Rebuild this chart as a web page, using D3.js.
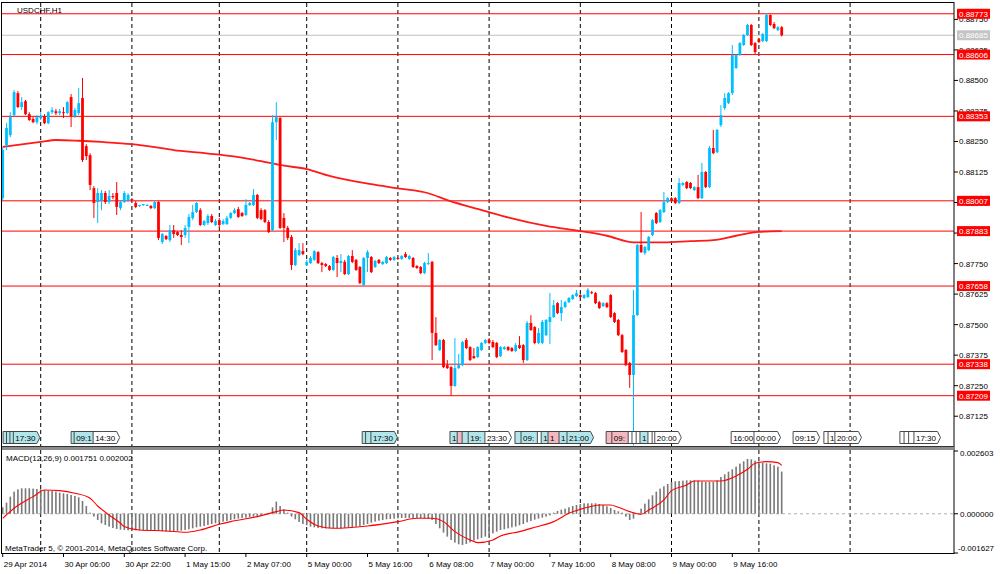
<!DOCTYPE html>
<html>
<head>
<meta charset="utf-8">
<script src="https://cdn.jsdelivr.net/npm/d3@7"></script>
<style>
  body { margin: 0; background: #fff; }
  svg text { font-family: "Liberation Sans", Arial, sans-serif; font-size: 8px; fill: #000; }
</style>
</head>
<body>
<div id="chart"></div>
<script>
// USDCHF H1 candles: [open, high, low, close], one per bar
const ohlc = [
  [0.88018,0.88227,0.88010,0.88215],[0.88235,0.88325,0.88215,0.88305],[0.88276,0.88370,0.88268,0.88350],[0.88358,0.88461,0.88354,0.88452],
  [0.88448,0.88457,0.88387,0.88391],[0.88391,0.88432,0.88379,0.88411],[0.88415,0.88420,0.88358,0.88362],[0.88362,0.88370,0.88334,0.88338],
  [0.88342,0.88350,0.88325,0.88329],[0.88329,0.88358,0.88321,0.88350],[0.88346,0.88370,0.88338,0.88354],[0.88354,0.88362,0.88321,0.88325],
  [0.88325,0.88374,0.88321,0.88370],[0.88370,0.88391,0.88362,0.88379],[0.88374,0.88383,0.88358,0.88366],[0.88366,0.88383,0.88358,0.88374],
  [0.88370,0.88391,0.88346,0.88366],[0.88366,0.88415,0.88362,0.88411],[0.88432,0.88444,0.88309,0.88354],[0.88354,0.88387,0.88346,0.88379],
  [0.88366,0.88469,0.88358,0.88407],[0.88428,0.88510,0.88166,0.88174],[0.88231,0.88239,0.88174,0.88190],[0.88194,0.88202,0.88051,0.88072],
  [0.88059,0.88067,0.87937,0.87998],[0.88002,0.88059,0.87916,0.88039],[0.88010,0.88051,0.87969,0.88039],[0.88039,0.88047,0.87994,0.88002],
  [0.88002,0.88051,0.87994,0.88027],[0.88027,0.88039,0.88014,0.88022],[0.88039,0.88084,0.87949,0.87982],[0.87977,0.88010,0.87969,0.88002],
  [0.88002,0.88047,0.87998,0.88039],[0.88010,0.88039,0.88002,0.88031],[0.88014,0.88018,0.88006,0.88010],[0.87998,0.88006,0.87977,0.87982],
  [0.87986,0.87990,0.87982,0.87990],[0.87990,0.87994,0.87986,0.87994],[0.87990,0.87994,0.87986,0.87990],[0.87986,0.87990,0.87973,0.87977],
  [0.87977,0.88006,0.87973,0.88002],[0.88002,0.88006,0.87846,0.87855],[0.87838,0.87875,0.87830,0.87871],[0.87863,0.87867,0.87846,0.87850],
  [0.87846,0.87908,0.87838,0.87887],[0.87887,0.87908,0.87855,0.87871],[0.87879,0.87883,0.87863,0.87867],[0.87867,0.87887,0.87826,0.87859],
  [0.87867,0.87908,0.87855,0.87896],[0.87900,0.87953,0.87834,0.87941],[0.87937,0.87990,0.87928,0.87961],[0.87961,0.88002,0.87957,0.87998],
  [0.87969,0.87977,0.87904,0.87908],[0.87908,0.87928,0.87904,0.87924],[0.87916,0.87953,0.87908,0.87945],[0.87945,0.87953,0.87916,0.87920],
  [0.87908,0.87932,0.87904,0.87924],[0.87928,0.87937,0.87896,0.87908],[0.87912,0.87932,0.87908,0.87924],[0.87912,0.87945,0.87908,0.87937],
  [0.87937,0.87961,0.87932,0.87957],[0.87957,0.87977,0.87953,0.87969],[0.87973,0.87982,0.87937,0.87941],[0.87957,0.87961,0.87941,0.87945],
  [0.87949,0.88014,0.87945,0.87990],[0.87990,0.88002,0.87986,0.87998],[0.87990,0.88055,0.87986,0.88031],[0.88031,0.88035,0.87932,0.87937],
  [0.87969,0.87977,0.87928,0.87932],[0.87969,0.87973,0.87916,0.87920],[0.87920,0.87928,0.87875,0.87879],[0.87887,0.88358,0.87883,0.88329],
  [0.88329,0.88411,0.88256,0.88350],[0.88346,0.88350,0.87892,0.87896],[0.87937,0.87957,0.87838,0.87896],[0.87896,0.87904,0.87846,0.87855],
  [0.87859,0.87867,0.87724,0.87744],[0.87744,0.87814,0.87740,0.87805],[0.87785,0.87834,0.87781,0.87805],[0.87801,0.87834,0.87785,0.87789],
  [0.87744,0.87765,0.87740,0.87757],[0.87752,0.87781,0.87748,0.87773],[0.87765,0.87805,0.87761,0.87801],[0.87797,0.87801,0.87748,0.87752],
  [0.87752,0.87757,0.87715,0.87744],[0.87748,0.87752,0.87736,0.87740],[0.87740,0.87744,0.87720,0.87724],[0.87724,0.87781,0.87720,0.87777],
  [0.87773,0.87785,0.87695,0.87752],[0.87752,0.87789,0.87715,0.87761],[0.87757,0.87765,0.87703,0.87707],[0.87707,0.87785,0.87703,0.87781],
  [0.87781,0.87805,0.87752,0.87757],[0.87765,0.87769,0.87720,0.87724],[0.87736,0.87740,0.87666,0.87670],[0.87662,0.87777,0.87658,0.87773],
  [0.87773,0.87805,0.87715,0.87797],[0.87777,0.87781,0.87711,0.87715],[0.87736,0.87765,0.87732,0.87761],[0.87765,0.87769,0.87748,0.87752],
  [0.87748,0.87761,0.87744,0.87757],[0.87752,0.87781,0.87748,0.87777],[0.87773,0.87777,0.87761,0.87765],[0.87765,0.87781,0.87761,0.87777],
  [0.87773,0.87777,0.87765,0.87769],[0.87769,0.87785,0.87765,0.87781],[0.87789,0.87797,0.87773,0.87777],[0.87769,0.87785,0.87765,0.87781],
  [0.87773,0.87777,0.87732,0.87736],[0.87740,0.87744,0.87728,0.87732],[0.87736,0.87740,0.87707,0.87711],[0.87711,0.87757,0.87707,0.87752],
  [0.87748,0.87793,0.87744,0.87752],[0.87757,0.87761,0.87355,0.87466],[0.87466,0.87531,0.87412,0.87416],[0.87396,0.87441,0.87392,0.87437],
  [0.87437,0.87441,0.87322,0.87326],[0.87334,0.87355,0.87318,0.87322],[0.87326,0.87330,0.87209,0.87249],[0.87249,0.87445,0.87245,0.87322],
  [0.87322,0.87380,0.87318,0.87334],[0.87334,0.87433,0.87330,0.87429],[0.87437,0.87445,0.87400,0.87404],[0.87408,0.87412,0.87351,0.87355],
  [0.87371,0.87404,0.87359,0.87363],[0.87367,0.87412,0.87363,0.87408],[0.87396,0.87429,0.87392,0.87425],[0.87425,0.87441,0.87420,0.87437],
  [0.87437,0.87445,0.87420,0.87425],[0.87429,0.87437,0.87404,0.87408],[0.87425,0.87429,0.87363,0.87367],[0.87371,0.87412,0.87367,0.87408],
  [0.87400,0.87412,0.87396,0.87408],[0.87408,0.87412,0.87392,0.87396],[0.87404,0.87408,0.87388,0.87392],[0.87392,0.87425,0.87388,0.87416],
  [0.87416,0.87453,0.87400,0.87404],[0.87416,0.87420,0.87343,0.87355],[0.87355,0.87515,0.87351,0.87507],[0.87507,0.87539,0.87474,0.87478],
  [0.87490,0.87494,0.87420,0.87425],[0.87425,0.87486,0.87420,0.87466],[0.87425,0.87519,0.87420,0.87511],[0.87457,0.87523,0.87453,0.87519],
  [0.87511,0.87629,0.87420,0.87531],[0.87531,0.87601,0.87527,0.87580],[0.87588,0.87592,0.87543,0.87547],[0.87547,0.87601,0.87515,0.87572],
  [0.87572,0.87597,0.87568,0.87592],[0.87592,0.87613,0.87588,0.87609],[0.87605,0.87625,0.87601,0.87621],[0.87617,0.87642,0.87613,0.87629],
  [0.87621,0.87625,0.87609,0.87613],[0.87609,0.87625,0.87605,0.87621],[0.87613,0.87650,0.87609,0.87642],[0.87633,0.87638,0.87625,0.87629],
  [0.87629,0.87633,0.87584,0.87588],[0.87592,0.87597,0.87564,0.87568],[0.87576,0.87592,0.87572,0.87588],[0.87588,0.87592,0.87568,0.87572],
  [0.87621,0.87625,0.87527,0.87531],[0.87547,0.87551,0.87507,0.87511],[0.87519,0.87523,0.87453,0.87457],[0.87457,0.87462,0.87384,0.87388],
  [0.87396,0.87400,0.87330,0.87334],[0.87343,0.87347,0.87241,0.87294],[0.87294,0.87642,0.87005,0.87539],[0.87539,0.87830,0.87535,0.87826],
  [0.87826,0.87961,0.87793,0.87797],[0.87793,0.87822,0.87785,0.87818],[0.87805,0.87863,0.87801,0.87859],[0.87867,0.87932,0.87863,0.87928],
  [0.87957,0.87961,0.87912,0.87916],[0.87920,0.87973,0.87916,0.87969],[0.87961,0.88043,0.87957,0.88002],[0.88002,0.88022,0.87998,0.88018],
  [0.88018,0.88022,0.88002,0.88006],[0.88018,0.88022,0.87994,0.87998],[0.87998,0.88100,0.87994,0.88080],[0.88072,0.88084,0.88067,0.88080],
  [0.88084,0.88088,0.88055,0.88059],[0.88080,0.88084,0.88055,0.88059],[0.88051,0.88067,0.88047,0.88063],[0.88063,0.88113,0.88014,0.88018],
  [0.88018,0.88162,0.88014,0.88125],[0.88125,0.88129,0.88059,0.88063],[0.88063,0.88231,0.88059,0.88223],[0.88223,0.88297,0.88198,0.88202],
  [0.88206,0.88301,0.88202,0.88297],[0.88317,0.88399,0.88309,0.88358],[0.88387,0.88448,0.88379,0.88428],[0.88407,0.88452,0.88403,0.88448],
  [0.88448,0.88645,0.88440,0.88604],[0.88551,0.88608,0.88547,0.88604],[0.88604,0.88657,0.88600,0.88653],[0.88645,0.88690,0.88641,0.88686],
  [0.88686,0.88731,0.88682,0.88727],[0.88727,0.88731,0.88641,0.88645],[0.88653,0.88657,0.88608,0.88616],[0.88669,0.88673,0.88653,0.88657],
  [0.88661,0.88694,0.88657,0.88690],[0.88661,0.88773,0.88657,0.88768],[0.88768,0.88770,0.88723,0.88727],[0.88731,0.88739,0.88710,0.88714],
  [0.88706,0.88723,0.88702,0.88718],[0.88718,0.88723,0.88680,0.88685]
];

// moving average (red curve), sampled at bar indices
const maIdx  = [0, 10, 14, 20, 26, 34, 40, 45, 52, 57, 64, 70, 74, 80, 86, 97, 104, 112, 117, 127, 134, 143, 152, 159, 166, 174, 181, 187, 193, 199, 205];
const maVals = [0.88228, 0.88248, 0.88256, 0.88253, 0.88248, 0.88239, 0.88227, 0.88215, 0.88204, 0.88196, 0.88181, 0.88163, 0.88151, 0.88137, 0.88109,
                0.88075, 0.88058, 0.88038, 0.88010, 0.87965, 0.87935, 0.87904, 0.87883, 0.87864, 0.87837, 0.87837, 0.87842, 0.87846, 0.87864, 0.87880, 0.87883];

// MACD(12,26,9) main histogram, one per bar
const macdHist = [
  0.000268,0.000462,0.000710,0.000918,0.001014,0.001056,0.001056,0.001056,0.001042,0.001028,
  0.001014,0.000987,0.000959,0.000945,0.000918,0.000876,0.000849,0.000821,0.000779,0.000738,
  0.000683,0.000531,0.000323,0.000047,-0.000119,-0.000257,-0.000395,-0.000464,-0.000533,-0.000589,
  -0.000630,-0.000658,-0.000672,-0.000685,-0.000685,-0.000685,-0.000685,-0.000685,-0.000685,-0.000699,
  -0.000699,-0.000713,-0.000727,-0.000741,-0.000741,-0.000727,-0.000713,-0.000699,-0.000672,-0.000644,
  -0.000603,-0.000561,-0.000533,-0.000506,-0.000464,-0.000423,-0.000395,-0.000354,-0.000326,-0.000299,
  -0.000257,-0.000229,-0.000202,-0.000174,-0.000160,-0.000133,-0.000119,-0.000091,-0.000077,-0.000050,
  -0.000022,0.000268,0.000503,0.000323,0.000185,0.000047,-0.000119,-0.000229,-0.000340,-0.000423,
  -0.000478,-0.000533,-0.000561,-0.000589,-0.000603,-0.000603,-0.000603,-0.000603,-0.000603,-0.000603,
  -0.000589,-0.000575,-0.000561,-0.000533,-0.000506,-0.000464,-0.000423,-0.000368,-0.000326,-0.000285,
  -0.000257,-0.000229,-0.000216,-0.000202,-0.000188,-0.000174,-0.000174,-0.000174,-0.000174,-0.000174,
  -0.000174,-0.000188,-0.000202,-0.000257,-0.000423,-0.000603,-0.000782,-0.000948,-0.001086,-0.001197,
  -0.001266,-0.001294,-0.001252,-0.001183,-0.001114,-0.001059,-0.001003,-0.000948,-0.000879,-0.000810,
  -0.000741,-0.000672,-0.000644,-0.000603,-0.000561,-0.000533,-0.000478,-0.000423,-0.000354,-0.000299,
  -0.000243,-0.000202,-0.000160,-0.000119,-0.000064,0.000047,0.000116,0.000171,0.000213,0.000268,
  0.000323,0.000365,0.000406,0.000434,0.000434,0.000434,0.000434,0.000406,0.000365,0.000310,
  0.000240,0.000158,0.000102,0.000047,-0.000119,-0.000257,-0.000202,-0.000008,0.000213,0.000420,
  0.000600,0.000766,0.000918,0.001042,0.001139,0.001236,0.001318,0.001346,0.001360,0.001374,
  0.001388,0.001388,0.001388,0.001374,0.001332,0.001318,0.001318,0.001318,0.001388,0.001526,
  0.001636,0.001747,0.001844,0.001954,0.002079,0.002175,0.002272,0.002258,0.002203,0.002161,
  0.002120,0.002092,0.002079,0.002009,0.001954,0.001751
];

// MACD signal line, sampled at bar indices
const sigIdx  = [0, 3, 8, 11, 15, 19, 23, 25, 28, 31, 32, 36, 43, 48, 52, 57, 60, 67, 72, 74, 78, 80, 83, 87, 96, 104, 109, 113, 116, 119,
                 123, 125, 129, 131, 136, 140, 145, 149, 154, 157, 160, 162, 165, 168, 170, 174, 176, 180, 182, 189, 193, 196, 198, 201, 204, 205];
const sigVals = [-0.000188, 0.000227, 0.000710, 0.000987, 0.000959, 0.000849, 0.000641, 0.000323, -0.000050, -0.000395, -0.000533, -0.000672,
                 -0.000713, -0.000768, -0.000672, -0.000437, -0.000326, -0.000119, 0.000088, 0.000158, 0.000047, -0.000229, -0.000506, -0.000603,
                 -0.000506, -0.000326, -0.000188, -0.000188, -0.000326, -0.000741, -0.001086, -0.001197, -0.001086, -0.000920, -0.000741, -0.000561,
                 -0.000326, 0.000019, 0.000268, 0.000365, 0.000365, 0.000268, 0.000088, -0.000022, 0.000158, 0.000572, 0.000959, 0.001194, 0.001360,
                 0.001360, 0.001567, 0.001844, 0.002092, 0.002161, 0.002120, 0.002002];

const levelLines = [0.88773, 0.88606, 0.88353, 0.88007, 0.87883, 0.87658, 0.87338, 0.87209];
const bidPrice = 0.88685;
const priceTicks = [0.88750, 0.88625, 0.88500, 0.88375, 0.88250, 0.88125, 0.88000, 0.87875, 0.87750, 0.87625, 0.87500, 0.87375, 0.87250, 0.87125];
const macdTicks = [0.002603, 0, -0.001627];

const timeIdx = [0, 16, 32, 48, 64, 80, 96, 112, 128, 144, 160, 176, 192];
const timeLabels = ["29 Apr 2014", "30 Apr 06:00", "30 Apr 22:00", "1 May 15:00", "2 May 07:00", "5 May 00:00", "5 May 16:00",
                    "6 May 08:00", "7 May 00:00", "7 May 16:00", "8 May 08:00", "9 May 00:00", "9 May 16:00"];
const sepIdx = [10, 34, 57, 80, 104, 128, 152, 176, 199, 223];

// economic calendar tags along the bottom of the price panel (kind: 0 low, 1 medium, 2 high)
const evPos  = [0.1, 1, 1.9, 2.8, 18, 18.8, 23.8, 94.6, 95.5, 96.9, 117.7, 119.6, 120.9, 122.5, 126.9, 134.8, 136.4, 140.7, 141.7, 143.5,
                146.4, 148.5, 158.8, 160.3, 164.6, 165.6, 166.7, 167.7, 169.8, 170.9, 171.6, 191.7, 197.7, 208, 216.1, 217.2, 219,
                236.1, 237.2, 238.4, 239.8];
const evText = ["17:30", "17:30", "17:30", "17:30", "09:15", "09:15", "14:30", "17:30", "17:30", "17:30", "10:00", "10:00", "14:30", "19:00",
                "23:30", "09:00", "09:00", "10:00", "14:30", "16:00", "16:00", "21:00", "09:15", "09:15", "10:00", "10:00", "10:00", "14:30",
                "16:00", "16:00", "20:00", "16:00", "00:00", "09:15", "10:00", "10:00", "20:00", "10:00", "10:00", "10:00", "17:30"];
const evKind = [1, 1, 1, 1, 1, 1, 0, 1, 1, 1, 1, 2, 1, 1, 0, 1, 1, 0, 1, 2, 1, 1, 2, 2, 0, 0, 0, 1, 0, 0, 0, 0, 0, 0, 0, 0, 0, 0, 0, 0, 0];

class MetaChart {
  constructor(_config) {
    this.config = {
      parentElement: _config.parentElement,
      containerWidth: _config.containerWidth || 1000,
      containerHeight: _config.containerHeight || 574,
      left: 2, right: 954,
      mainTop: 3, mainBottom: 446,
      macdTop: 450, macdBottom: 553,
      bull: '#00bfff', bear: '#ff0000',
      tagFill: ['#ffffff', '#b2e5ea', '#f4b8c0']
    };
    this.initVis();
  }

  initVis() {
    let vis = this;
    const c = vis.config;

    vis.svg = d3.select(c.parentElement).append('svg')
      .attr('width', c.containerWidth)
      .attr('height', c.containerHeight);

    vis.x = d3.scaleLinear().domain([0, 205]).range([2.7, 781.7]);
    vis.y = d3.scaleLinear().domain([0.87003, 0.88813]).range([c.mainBottom, c.mainTop + 1]);
    vis.ym = d3.scaleLinear().domain([-0.001627, 0.002603]).range([c.macdBottom, c.macdTop + 1]);

    const defs = vis.svg.append('defs');
    defs.append('clipPath').attr('id', 'clip-main').append('rect')
      .attr('x', c.left).attr('y', c.mainTop).attr('width', c.right - c.left).attr('height', c.mainBottom - c.mainTop);
    defs.append('clipPath').attr('id', 'clip-macd').append('rect')
      .attr('x', c.left).attr('y', c.macdTop).attr('width', c.right - c.left).attr('height', c.macdBottom - c.macdTop);

    vis.main = vis.svg.append('g').attr('clip-path', 'url(#clip-main)');
    vis.macd = vis.svg.append('g').attr('clip-path', 'url(#clip-macd)');

    vis.renderVis();
  }

  renderVis() {
    let vis = this;
    const c = vis.config, x = vis.x, y = vis.y, ym = vis.ym;

    // day separators
    [[vis.main, c.mainTop, c.mainBottom], [vis.macd, c.macdTop, c.macdBottom]].forEach(([g, y0, y1]) => {
      g.selectAll('.sep').data(sepIdx).join('line')
        .attr('x1', d => x(d)).attr('x2', d => x(d))
        .attr('y1', y0).attr('y2', y1)
        .attr('stroke', '#000').attr('stroke-dasharray', '4,3');
    });

    // horizontal levels + bid line
    vis.main.selectAll('.lvl').data(levelLines).join('line')
      .attr('x1', c.left).attr('x2', c.right)
      .attr('y1', d => y(d)).attr('y2', d => y(d))
      .attr('stroke', '#ff0000');
    vis.main.append('line')
      .attr('x1', c.left).attr('x2', c.right)
      .attr('y1', y(bidPrice)).attr('y2', y(bidPrice))
      .attr('stroke', '#c0c0c0');

    // moving average
    const maLine = d3.line().x(d => x(d[0])).y(d => y(d[1])).curve(d3.curveMonotoneX);
    vis.main.append('path')
      .datum(maIdx.map((k, i) => [k, maVals[i]]))
      .attr('d', maLine)
      .attr('fill', 'none').attr('stroke', '#ff1a1a').attr('stroke-width', 1.8);

    // candles
    const col = d => d[3] >= d[0] ? c.bull : c.bear;
    vis.main.selectAll('.wick').data(ohlc).join('line')
      .attr('x1', (d, i) => x(i)).attr('x2', (d, i) => x(i))
      .attr('y1', d => y(d[1])).attr('y2', d => y(d[2]))
      .attr('stroke', col);
    vis.main.selectAll('.body').data(ohlc).join('rect')
      .attr('x', (d, i) => x(i) - 1.4).attr('width', 2.8)
      .attr('y', d => y(Math.max(d[0], d[3])))
      .attr('height', d => Math.max(1, Math.abs(y(d[0]) - y(d[3]))))
      .attr('fill', col);

    // calendar tags; a tag covered by the next one only shows the characters that fit
    const tagY = 431.5, tagH = 12;
    evPos.forEach((p, i) => {
      const g = vis.main.append('g');
      const x0 = x(p);
      const path = g.append('path');
      const t = g.append('text').attr('x', x0 + 2).attr('y', tagY + 9).text(evText[i]);
      const w = t.node().getComputedTextLength() + 3.5;
      path.attr('d', `M${x0},${tagY}h${w}l3,${tagH / 2}l-3,${tagH / 2}h${-w}Z`)
        .attr('fill', c.tagFill[evKind[i]]).attr('stroke', '#3a3a3a').attr('stroke-width', 0.9);
      if (i < evPos.length - 1) {
        const room = x(evPos[i + 1]) - x0 - 2.2;
        let s = evText[i];
        while (s.length && t.node().getComputedTextLength() > room) {
          s = s.slice(0, -1);
          t.text(s);
        }
        if (!s.length) t.remove();
      }
    });

    // MACD panel
    vis.macd.append('line')
      .attr('x1', c.left).attr('x2', c.right)
      .attr('y1', ym(0)).attr('y2', ym(0))
      .attr('stroke', '#b0b0b0').attr('stroke-dasharray', '3,3');
    vis.macd.selectAll('.hist').data(macdHist).join('rect')
      .attr('x', (d, i) => x(i) - 0.8).attr('width', 1.6)
      .attr('y', d => ym(Math.max(0, d)))
      .attr('height', d => Math.abs(ym(d) - ym(0)))
      .attr('fill', '#787878');
    const sigLine = d3.line().x(d => x(d[0])).y(d => ym(d[1])).curve(d3.curveMonotoneX);
    vis.macd.append('path')
      .datum(sigIdx.map((k, i) => [k, sigVals[i]]))
      .attr('d', sigLine)
      .attr('fill', 'none').attr('stroke', '#ff0000').attr('stroke-width', 1.1);

    // frame and panel separator
    vis.svg.append('rect')
      .attr('x', c.left - 0.5).attr('y', c.mainTop - 0.5)
      .attr('width', c.right - c.left + 0.5).attr('height', c.macdBottom - c.mainTop + 1)
      .attr('fill', 'none').attr('stroke', '#000');
    vis.svg.append('rect').attr('x', c.left).attr('y', c.mainBottom).attr('width', c.right - c.left).attr('height', 4).attr('fill', '#8c8c8c');
    vis.svg.append('line').attr('x1', c.left).attr('x2', c.right).attr('y1', c.mainBottom + 0.5).attr('y2', c.mainBottom + 0.5).attr('stroke', '#333');

    // right price axis
    const ax = vis.svg.append('g');
    ax.selectAll('.pt').data(priceTicks).join('line')
      .attr('x1', c.right).attr('x2', c.right + 4)
      .attr('y1', d => y(d)).attr('y2', d => y(d)).attr('stroke', '#000');
    ax.selectAll('.pl').data(priceTicks).join('text')
      .attr('x', c.right + 5).attr('y', d => y(d) + 3)
      .text(d => d.toFixed(5));

    const tag = (v, fill) => {
      ax.append('rect').attr('x', c.right + 3).attr('y', y(v) - 5).attr('width', 33).attr('height', 10).attr('fill', fill);
      ax.append('text').attr('x', c.right + 5).attr('y', y(v) + 3).style('fill', '#fff').text(v.toFixed(5));
    };
    levelLines.forEach(v => tag(v, '#ff0000'));
    tag(bidPrice, '#c4c4c4');

    // MACD axis
    ax.selectAll('.mt').data(macdTicks).join('line')
      .attr('x1', c.right).attr('x2', c.right + 4)
      .attr('y1', d => ym(d)).attr('y2', d => ym(d)).attr('stroke', '#000');
    ax.selectAll('.ml').data(macdTicks).join('text')
      .attr('x', d => d < 0 ? c.right + 4 : c.right + 6)
      .attr('y', d => Math.min(Math.max(ym(d) + 3, c.macdTop + 6), c.macdBottom - 2))
      .text(d => d.toFixed(6));

    // time axis
    const tx = vis.svg.append('g');
    tx.selectAll('.tt').data(timeIdx).join('line')
      .attr('x1', d => x(d)).attr('x2', d => x(d))
      .attr('y1', c.macdBottom).attr('y2', c.macdBottom + 4).attr('stroke', '#000');
    tx.selectAll('.tl').data(timeIdx).join('text')
      .attr('x', d => x(d) + 1).attr('y', c.macdBottom + 13.5)
      .text((d, i) => timeLabels[i]);

    // captions
    vis.svg.append('text').attr('x', 17).attr('y', 13).text('USDCHF,H1');
    vis.svg.append('text').attr('x', 6).attr('y', c.macdTop + 10.5)
      .text('MACD(12,26,9) ' + macdHist[macdHist.length - 1].toFixed(6) + ' ' + sigVals[sigVals.length - 1].toFixed(6));
    vis.svg.append('text').attr('x', 5).attr('y', c.macdBottom - 2.5)
      .text('MetaTrader 5, \u00a9 2001-2014, MetaQuotes Software Corp.');
  }
}

new MetaChart({ parentElement: '#chart' });
</script>
</body>
</html>
